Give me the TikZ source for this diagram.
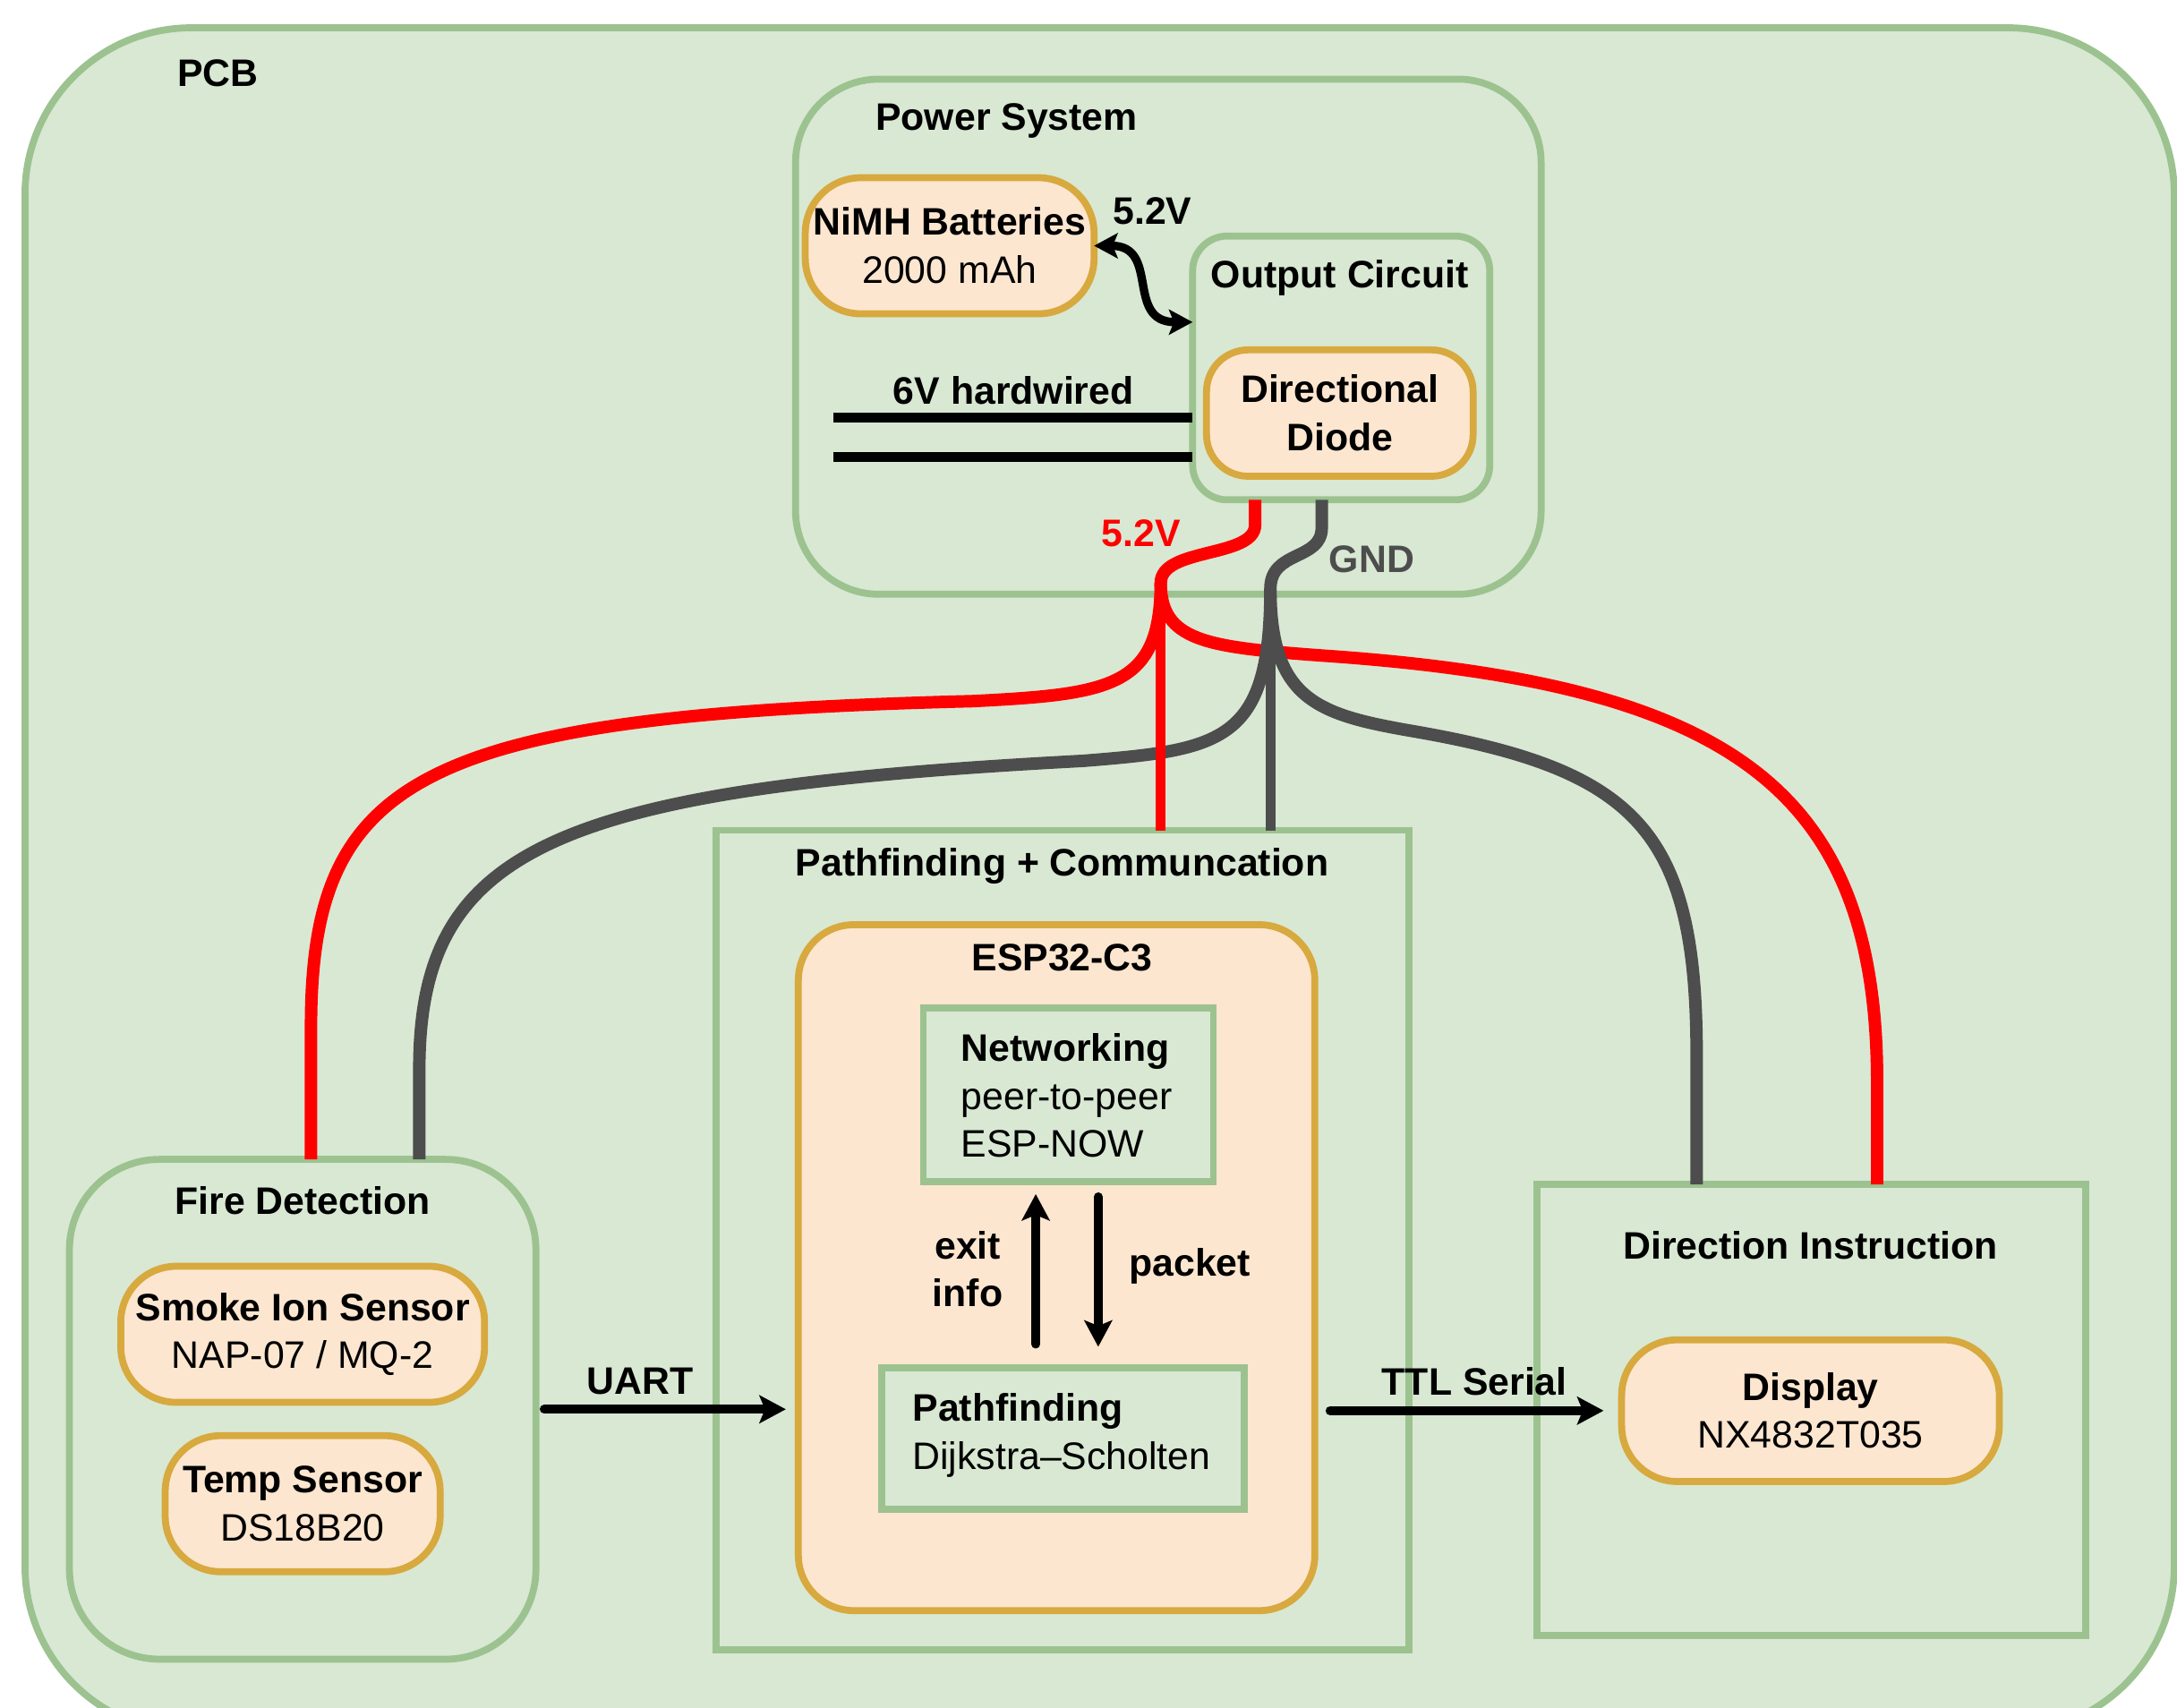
\documentclass[tikz,border=0pt]{standalone}
\usepackage{fontspec}
\setmainfont{Liberation Sans}
\usetikzlibrary{positioning,fit,arrows.meta}

\definecolor{grpfill}{HTML}{D8E8D3}
\definecolor{grpline}{HTML}{9CC290}
\definecolor{partfill}{HTML}{FDE6CF}
\definecolor{partline}{HTML}{D7A93E}
\definecolor{wirered}{HTML}{FF0000}
\definecolor{wiregnd}{HTML}{4D4D4D}

\newcommand\diagfont{\fontsize{15.7}{19.7}\selectfont}

\tikzset{
  grp/.style={draw=grpline,fill=grpfill,line width=0.1cm,inner sep=0pt,outer sep=0pt},
  part/.style={draw=partline,fill=partfill,line width=0.1cm,inner sep=0pt,outer sep=0pt},
  lbl/.style={font=\diagfont\bfseries},
  sig/.style={line width=0.13cm,line cap=round,-{Stealth[length=0.38cm,width=0.4cm,inset=0.08cm]}},
  dsig/.style={line width=0.12cm,{Stealth[length=0.34cm,width=0.36cm,inset=0.07cm]}-{Stealth[length=0.34cm,width=0.36cm,inset=0.07cm]}},
  hwire/.style={line width=0.14cm},
  rail/.style={line width=0.18cm},
  trunk/.style={line width=0.145cm},
}

\begin{document}
\begin{tikzpicture}[x=0.02cm,y=-0.02cm,font=\diagfont]
\useasboundingbox (0,0) rectangle (1568,1230);
\clip (0,0) rectangle (1568,1230);

% Board
\node[grp,rounded corners=2.4cm,fit={(18,20) (1566,1248)}] (pcb) {};
\node[lbl] (pcb-t) at (157,53) {PCB};

% Power system
\node[grp,rounded corners=1.2cm,fit={(573,57) (1110,428)}] (power) {};
\node[lbl] (power-t) at (725,87) {Power System};
\node[part,rounded corners=0.8cm,fit={(580,128) (788,226)}] (batt) {};
\node[align=center] (batt-t) at (batt) {\textbf{NiMH Batteries}\\2000 mAh};
\node[grp,rounded corners=0.5cm,fit={(859,170) (1073,360)}] (outc) {};
\node[lbl] (outc-t) at (965,200) {Output Circuit};
\node[part,rounded corners=0.6cm,fit={(869,252) (1061,343)}] (diode) {};
\node[lbl,align=center] (diode-t) at (diode) {Directional\\Diode};

\draw[dsig] (batt.east) .. controls (836,177) and (810,232) .. (outc.west |- 0,232);
\node[lbl] (batt-v) at (830,152) {5.2V};

\coordinate (hw1) at (600,301);
\coordinate (hw2) at (600,329);
\draw[hwire] (hw1) -- (hw1 -| outc.west);
\draw[hwire] (hw2) -- (hw2 -| outc.west);
\node[lbl] (hw-t) at (730,281) {6V hardwired};

% Fire detection
\node[grp,rounded corners=1.3cm,fit={(50,835) (386,1195)}] (fire) {};
\node[lbl] (fire-t) at (218,865) {Fire Detection};
\node[part,rounded corners=0.8cm,fit={(87,912) (349,1010)}] (smoke) {};
\node[align=center] (smoke-t) at (smoke) {\textbf{Smoke Ion Sensor}\\NAP-07 / MQ-2};
\node[part,rounded corners=0.8cm,fit={(119,1034) (317,1132)}] (temp) {};
\node[align=center] (temp-t) at (temp) {\textbf{Temp Sensor}\\DS18B20};

% Pathfinding + communication
\node[grp,fit={(516,598) (1015,1188)}] (pfc) {};
\node[lbl] (pfc-t) at (765,624) {Pathfinding + Communcation};
\node[part,rounded corners=0.8cm,fit={(575,666) (947,1160)}] (esp) {};
\node[lbl] (esp-t) at (765,690) {ESP32-C3};
\node[grp,fit={(665,726) (874,851)}] (net) {};
\node[anchor=west,align=left,inner xsep=0pt] (net-t) at (692,789) {\textbf{Networking}\\peer-to-peer\\ESP-NOW};
\node[grp,fit={(635,985) (896,1087)}] (pf) {};
\node[anchor=west,align=left,inner xsep=0pt] (pf-t) at (657,1034) {\textbf{Pathfinding}\\Dijkstra--Scholten};

\draw[sig,shorten <=0.34cm,shorten >=0.18cm] (pf.north -| 746,0) -- (net.south -| 746,0);
\draw[sig,shorten <=0.22cm,shorten >=0.3cm] (net.south -| 791,0) -- (pf.north -| 791,0);
\node[lbl,align=center] (exit-t) at (697,914) {exit\\info};
\node[lbl] (packet-t) at (857,912) {packet};

% Direction instruction
\node[grp,fit={(1107,853) (1502,1178)}] (dir) {};
\node[lbl] (dir-t) at (1304,897) {Direction Instruction};
\node[part,rounded corners=0.8cm,fit={(1168,965) (1440,1067)}] (disp) {};
\node[align=center] (disp-t) at (disp) {\textbf{Display}\\NX4832T035};

% Data links
\draw[sig,shorten <=0.12cm,shorten >=0.18cm] (fire.east) -- (fire.east -| esp.west);
\node[lbl] (uart-t) at (461,995) {UART};
\draw[sig,shorten <=0.22cm,shorten >=0.26cm] (esp.east |- disp.west) -- (disp.west);
\node[lbl] (ttl-t) at (1062,995) {TTL Serial};

% Power rails
\coordinate (r0) at (outc.south -| 904,0);
\coordinate (g0) at (outc.south -| 952,0);
\coordinate (rsplit) at (836,420);
\coordinate (gsplit) at (915,424);

\draw[rail,wirered] (r0) -- (904,378) .. controls (904,402) and (836,394) .. (rsplit)
  .. controls (836,462) and (870,466) .. (950,472)
  .. controls (1250,492) and (1352,570) .. (1352,780) -- (dir.north -| 1352,0);
\draw[rail,wiregnd] (g0) -- (952,380) .. controls (952,404) and (915,396) .. (gsplit)
  .. controls (915,535) and (880,540) .. (780,548)
  .. controls (400,568) and (302,610) .. (302,770) -- (fire.north -| 302,0);
\draw[rail,wirered] (rsplit) .. controls (836,495) and (800,500) .. (700,505)
  .. controls (300,515) and (224,560) .. (224,740) -- (fire.north -| 224,0);
\draw[trunk,wirered] (rsplit) -- (pfc.north -| rsplit);
\draw[trunk,wiregnd] (gsplit) -- (pfc.north -| gsplit);
\draw[rail,wiregnd] (gsplit) .. controls (915,505) and (950,515) .. (1020,527)
  .. controls (1180,555) and (1222,600) .. (1222,760) -- (dir.north -| 1222,0);

\node[lbl,text=wirered] (rail-v) at (822,384) {5.2V};
\node[lbl,text=wiregnd] (rail-g) at (988,403) {GND};

\end{tikzpicture}
\end{document}
